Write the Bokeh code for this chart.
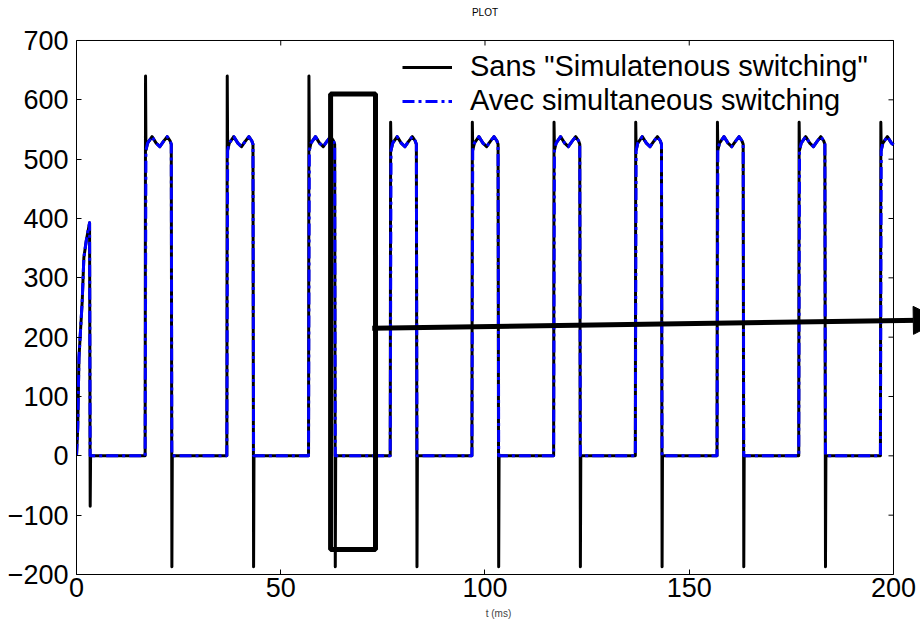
import math
from bokeh.plotting import figure
from bokeh.models import (Range1d, FixedTicker, Arrow, NormalHead,
                          Legend, LegendItem)
from bokeh.core.properties import value
from bokeh.embed import file_html
from bokeh.resources import INLINE

# ---------------- data ----------------
# "Avec simultaneous switching" (blue dash-dot)
t_avec = [
    0.0, 0.3, 0.6, 1.4, 1.8, 2.4, 3.2, 3.35,
    16.8, 17.0, 17.4, 18.5, 19.5, 20.4, 21.3, 22.2, 22.9, 23.2, 23.35,
    36.8, 37.0, 37.4, 38.5, 39.5, 40.4, 41.3, 42.2, 42.9, 43.2, 43.35,
    56.8, 57.0, 57.4, 58.5, 59.5, 60.4, 61.3, 62.2, 62.9, 63.2, 63.35,
    76.8, 77.0, 77.4, 78.5, 79.5, 80.4, 81.3, 82.2, 82.9, 83.2, 83.35,
    96.8, 97.0, 97.4, 98.5, 99.5, 100.4, 101.3, 102.2, 102.9, 103.2, 103.35,
    116.8, 117.0, 117.4, 118.5, 119.5, 120.4, 121.3, 122.2, 122.9, 123.2, 123.35,
    136.8, 137.0, 137.4, 138.5, 139.5, 140.4, 141.3, 142.2, 142.9, 143.2, 143.35,
    156.8, 157.0, 157.4, 158.5, 159.5, 160.4, 161.3, 162.2, 162.9, 163.2, 163.35,
    176.8, 177.0, 177.4, 178.5, 179.5, 180.4, 181.3, 182.2, 182.9, 183.2, 183.35,
    196.8, 197.0, 197.4, 198.5, 199.5, 200.0,
]
v_avec = [
    0, 47, 165, 261, 334, 363, 393, 0,
    0, 515, 527, 538, 527, 521, 530, 538, 531, 525, 0,
    0, 515, 527, 538, 527, 521, 530, 538, 531, 525, 0,
    0, 515, 527, 538, 527, 521, 530, 538, 531, 525, 0,
    0, 515, 527, 538, 527, 521, 530, 538, 531, 525, 0,
    0, 515, 527, 538, 527, 521, 530, 538, 531, 525, 0,
    0, 515, 527, 538, 527, 521, 530, 538, 531, 525, 0,
    0, 515, 527, 538, 527, 521, 530, 538, 531, 525, 0,
    0, 515, 527, 538, 527, 521, 530, 538, 531, 525, 0,
    0, 515, 527, 538, 527, 521, 530, 538, 531, 525, 0,
    0, 515, 527, 538, 527, 524,
]

# "Sans simultaneous switching" (black solid, with spikes)
t_sans = [
    0.0, 0.3, 0.6, 1.4, 1.8, 2.4, 3.2, 3.35, 3.45,
    16.8, 16.9, 17.0, 17.4, 18.5, 19.5, 20.4, 21.3, 22.2, 22.9, 23.2, 23.35, 23.45,
    36.8, 36.9, 37.0, 37.4, 38.5, 39.5, 40.4, 41.3, 42.2, 42.9, 43.2, 43.35, 43.45,
    56.8, 56.9, 57.0, 57.4, 58.5, 59.5, 60.4, 61.3, 62.2, 62.9, 63.2, 63.35, 63.45,
    76.8, 76.9, 77.0, 77.4, 78.5, 79.5, 80.4, 81.3, 82.2, 82.9, 83.2, 83.35, 83.45,
    96.8, 96.9, 97.0, 97.4, 98.5, 99.5, 100.4, 101.3, 102.2, 102.9, 103.2, 103.35, 103.45,
    116.8, 116.9, 117.0, 117.4, 118.5, 119.5, 120.4, 121.3, 122.2, 122.9, 123.2, 123.35, 123.45,
    136.8, 136.9, 137.0, 137.4, 138.5, 139.5, 140.4, 141.3, 142.2, 142.9, 143.2, 143.35, 143.45,
    156.8, 156.9, 157.0, 157.4, 158.5, 159.5, 160.4, 161.3, 162.2, 162.9, 163.2, 163.35, 163.45,
    176.8, 176.9, 177.0, 177.4, 178.5, 179.5, 180.4, 181.3, 182.2, 182.9, 183.2, 183.35, 183.45,
    196.8, 196.9, 197.0, 197.4, 198.5, 199.5, 200.0,
]
v_sans = [
    0, 47, 165, 261, 334, 363, 393, -85, 0,
    0, 640, 515, 527, 538, 527, 521, 530, 538, 531, 525, -187, 0,
    0, 640, 515, 527, 538, 527, 521, 530, 538, 531, 525, -187, 0,
    0, 640, 515, 527, 538, 527, 521, 530, 538, 531, 525, -187, 0,
    0, 562, 515, 527, 538, 527, 521, 530, 538, 531, 525, -187, 0,
    0, 562, 515, 527, 538, 527, 521, 530, 538, 531, 525, -187, 0,
    0, 562, 515, 527, 538, 527, 521, 530, 538, 531, 525, -187, 0,
    0, 562, 515, 527, 538, 527, 521, 530, 538, 531, 525, -187, 0,
    0, 562, 515, 527, 538, 527, 521, 530, 538, 531, 525, -187, 0,
    0, 562, 515, 527, 538, 527, 521, 530, 538, 531, 525, -187, 0,
    0, 562, 515, 527, 538, 527, 524,
]

x_ticks = [0, 50, 100, 150, 200]
y_ticks = [-200, -100, 0, 100, 200, 300, 400, 500, 600, 700]

# highlight box and arrow (annotation, data units)
box_t = [62.2, 73.2]
box_v = [-158, 610]
arrow_t = [72.4, 211.7]
arrow_v = [215, 229]

labels = ['Sans "Simulatenous switching"', 'Avec simultaneous switching']
title_text = "PLOT"
xlabel_text = "t (ms)"

# ---------------- figure ----------------
FONT = "Liberation Sans"
# the drawing area runs on past the axes box (to the right for the arrow,
# upward for the small title); the box itself spans 0..200 x -200..700
X_VIEW_MAX = 206.61
Y_VIEW_MAX = 767.4
TITLE_POS = (100, 747.2)

p = figure(width=920, height=628, output_backend="svg", toolbar_location=None,
           x_range=Range1d(0, X_VIEW_MAX), y_range=Range1d(y_ticks[0], Y_VIEW_MAX),
           min_border_left=76, min_border_right=0, min_border_top=0,
           min_border_bottom=54)
p.background_fill_color = "white"
p.border_fill_color = "white"
p.outline_line_color = None
p.xgrid.visible = False
p.ygrid.visible = False

p.xaxis.ticker = FixedTicker(ticks=x_ticks)
p.xaxis.bounds = (x_ticks[0], x_ticks[-1])
p.yaxis.ticker = FixedTicker(ticks=y_ticks)
p.yaxis.bounds = (y_ticks[0], y_ticks[-1])

for ax in list(p.xaxis) + list(p.yaxis):
    ax.major_tick_in = 5
    ax.major_tick_out = 0
    ax.minor_tick_line_color = None
    ax.major_tick_line_color = "black"
    ax.axis_line_color = "black"
    ax.major_label_text_font = FONT
    ax.major_label_text_font_size = "27px"
    ax.major_label_text_color = "black"

p.yaxis.major_label_standoff = 8
p.xaxis.major_label_standoff = 3
p.xaxis.axis_label = xlabel_text
p.xaxis.axis_label_text_font = FONT
p.xaxis.axis_label_text_font_size = "10px"
p.xaxis.axis_label_text_font_style = "normal"
p.xaxis.axis_label_standoff = 8

# box closing lines (top and right) and mirrored inward ticks
p.line(x=[x_ticks[0], x_ticks[-1]], y=[y_ticks[-1], y_ticks[-1]], line_color="black", line_width=1)
p.line(x=[x_ticks[-1], x_ticks[-1]], y=[y_ticks[0], y_ticks[-1]], line_color="black", line_width=1)
p.ray(x=x_ticks, y=[y_ticks[-1]] * len(x_ticks), length=5, length_units="screen",
      angle=-math.pi / 2, line_color="black", line_width=1)
p.ray(x=[x_ticks[-1]] * len(y_ticks), y=y_ticks, length=5, length_units="screen",
      angle=math.pi, line_color="black", line_width=1)

r_sans = p.line(t_sans, v_sans, line_color="black", line_width=3, line_join="round")
r_avec = p.line(t_avec, v_avec, line_color="#0000ff", line_width=3,
                line_dash="12 4 3 4", line_join="round")

p.quad(left=[box_t[0]], right=[box_t[1]], bottom=[box_v[0]], top=[box_v[1]],
       fill_color=None, line_color="black", line_width=5)

p.add_layout(Arrow(x_start=arrow_t[0], y_start=arrow_v[0], x_end=arrow_t[1], y_end=arrow_v[1],
                   line_color="black", line_width=5,
                   end=NormalHead(size=28, fill_color="black", line_color="black")))

# small title above the axes box
p.text(x=[TITLE_POS[0]], y=[TITLE_POS[1]], text=[title_text], text_align="center",
       text_baseline="middle", text_font=value(FONT), text_font_size="10px",
       text_color="black")

legend = Legend(items=[LegendItem(label=labels[0], renderers=[r_sans]),
                       LegendItem(label=labels[1], renderers=[r_avec])],
                location=(326, 457), border_line_color=None, background_fill_alpha=0,
                padding=0, spacing=1, margin=0, glyph_width=50, glyph_height=28,
                label_height=28, label_standoff=18, label_text_font=FONT,
                label_text_font_size="29px", label_text_color="black")
p.add_layout(legend)

open("out.html", "w").write(file_html(p, INLINE))
